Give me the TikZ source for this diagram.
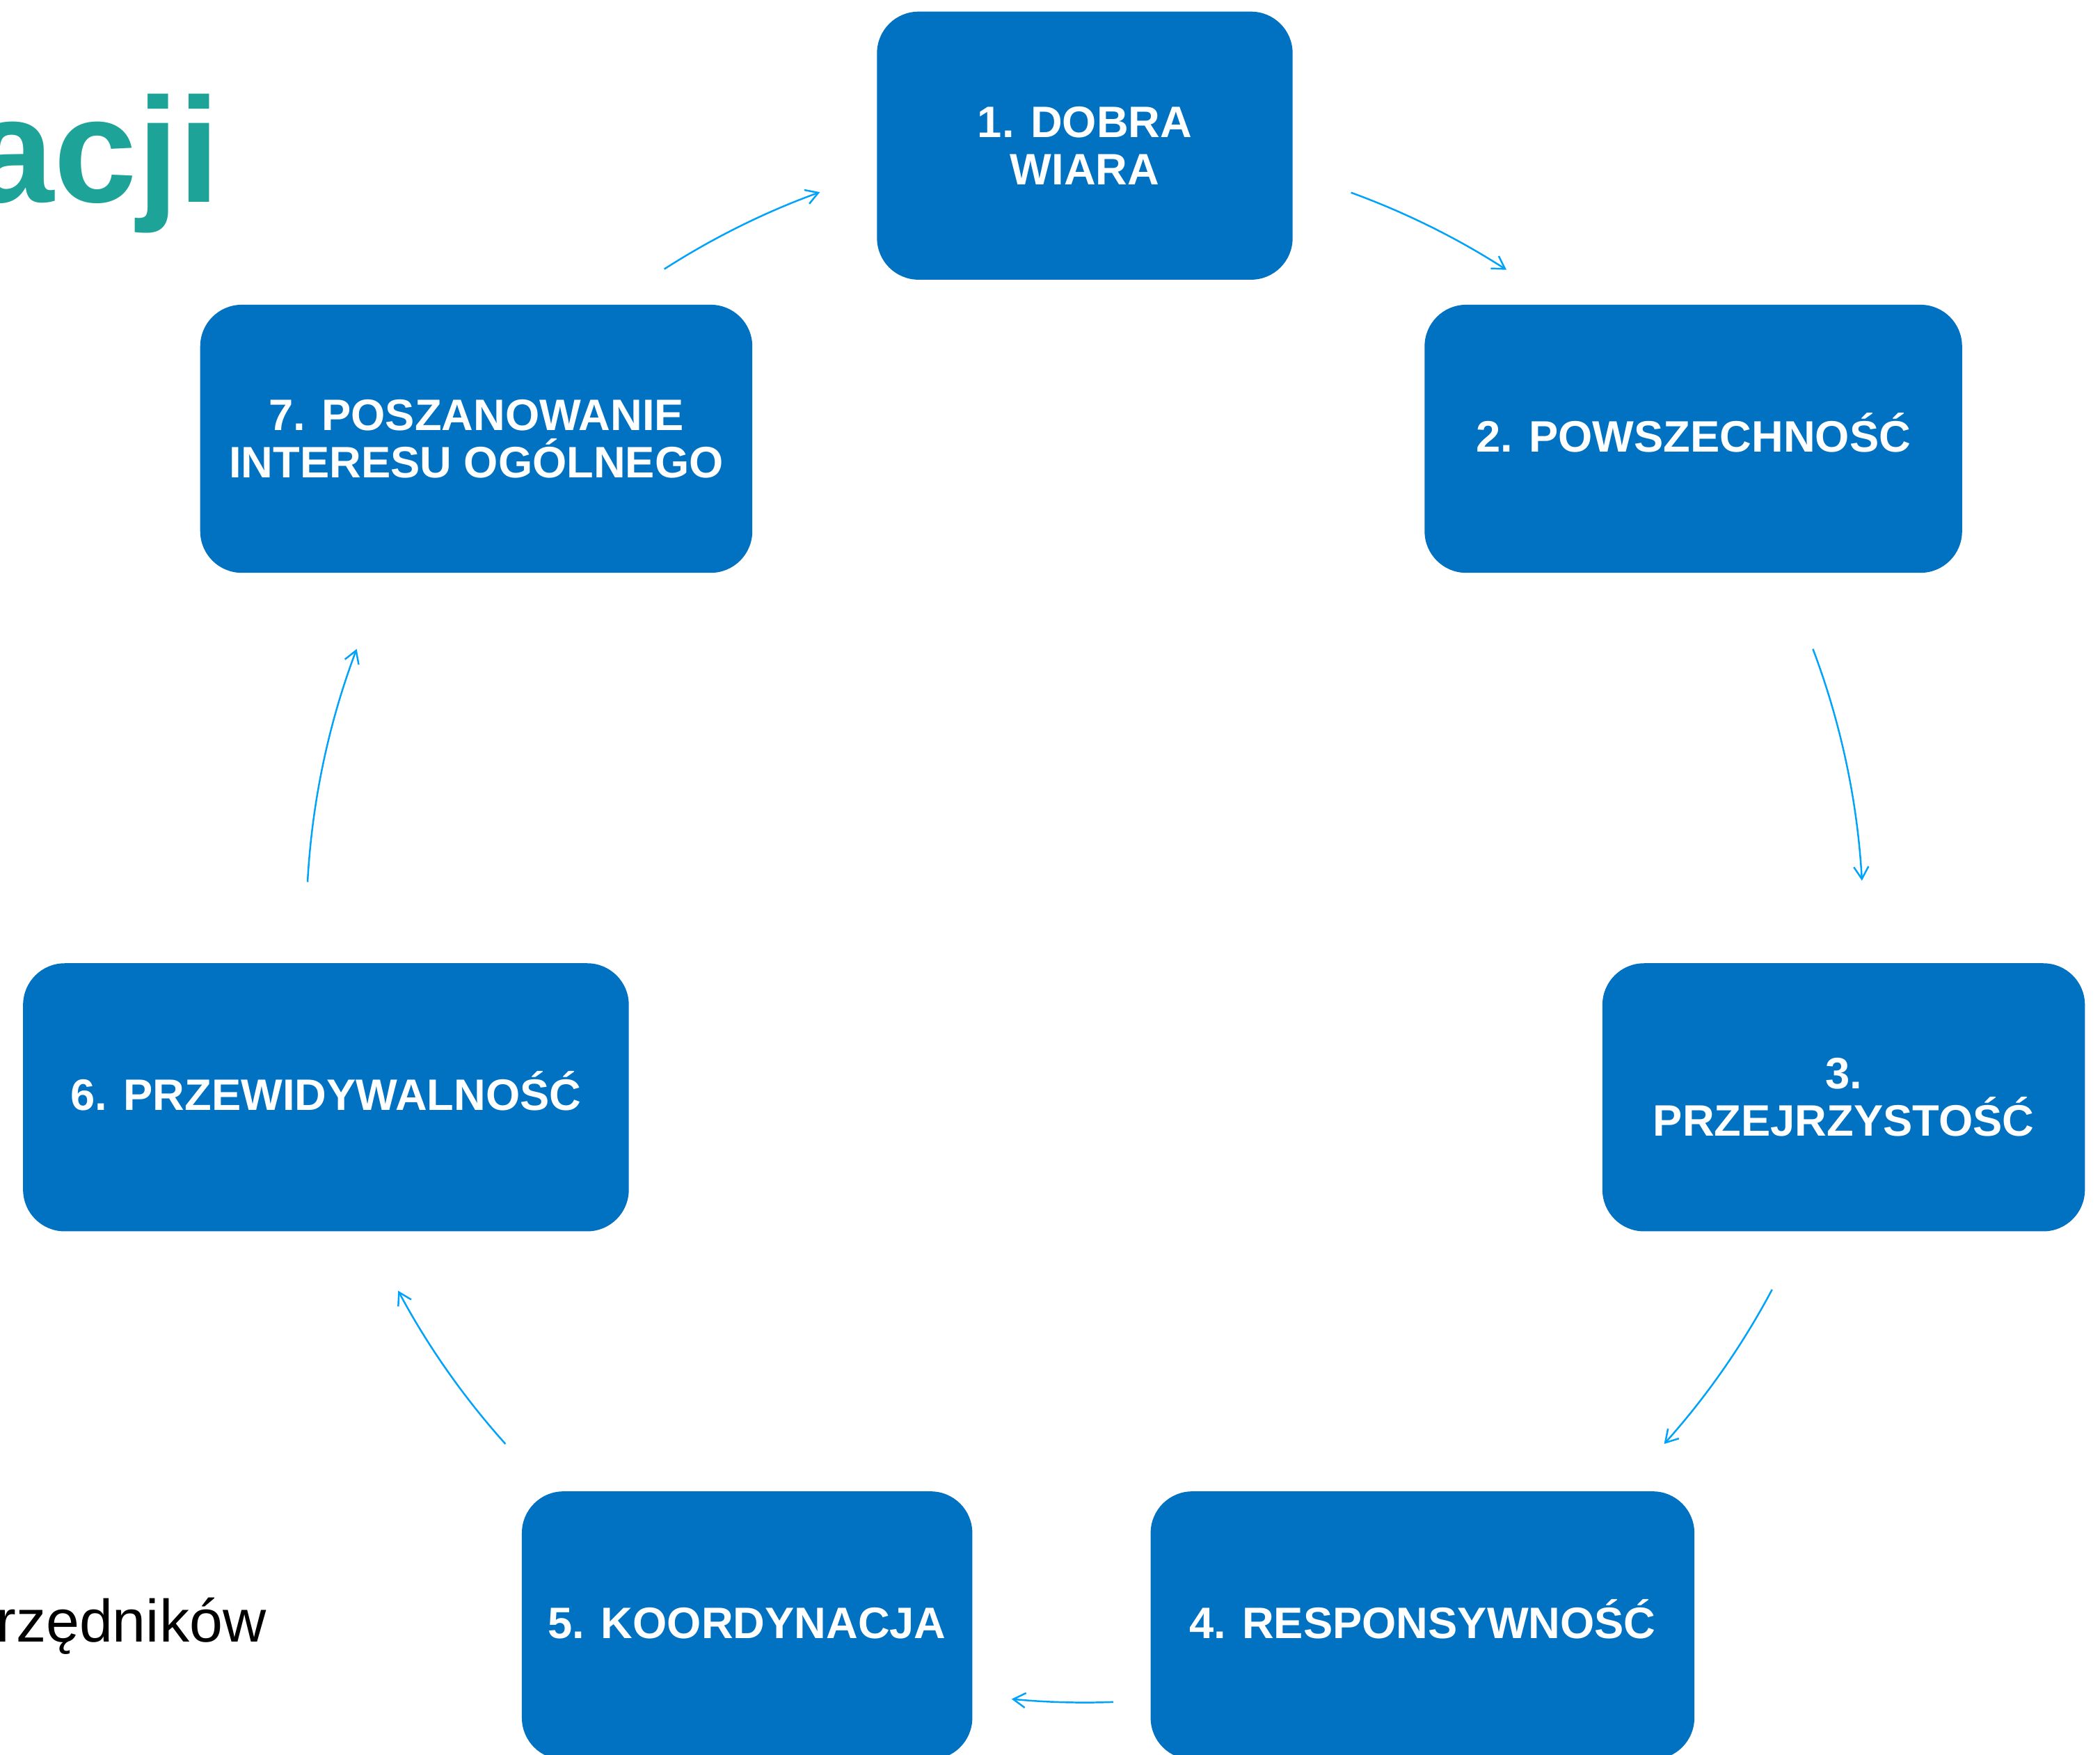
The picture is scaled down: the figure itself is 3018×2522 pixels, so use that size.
\documentclass[tikz,border=0pt]{standalone}
\usepackage{fontspec}
\setmainfont{Liberation Sans}
\usetikzlibrary{arrows.meta}
\definecolor{boxblue}{RGB}{1,113,194}
\definecolor{arrowblue}{RGB}{0,162,250}
\definecolor{titleteal}{RGB}{29,163,152}
\begin{document}
\begin{tikzpicture}[x=0.01cm,y=0.01cm,
  box/.style={fill=boxblue, rounded corners=17pt, minimum height=3.85cm, text=white,
    align=center, font=\bfseries\fontsize{18}{19.5}\selectfont, inner sep=0pt},
  oneline/.style={text height=12.9pt, text depth=2.2pt},
  cyc/.style={draw=arrowblue, line width=0.7pt, -{Straight Barb[length=5pt,width=6pt]}}]
\useasboundingbox (0,0) rectangle (3018,2522);
\clip (0,0) rectangle (3018,2522);
\coordinate (C) at (1559,1194);

\node[anchor=base east, inner sep=0pt, text=titleteal, font=\bfseries\fontsize{61}{61}\selectfont] (title) at (317,2231) {acji};
\node[anchor=base east, inner sep=0pt, text=black, font=\fontsize{24.5}{24.5}\selectfont] (frag) at (383,162) {rzędników};

\node[box, minimum width=5.97cm] (b1) at ([shift={(90:11.18cm)}]C) {1. DOBRA\\WIARA};
\node[box, oneline, minimum width=7.72cm] (b2) at ([shift={(38.571:11.18cm)}]C) {2. POWSZECHNOŚĆ};
\node[box, minimum width=6.93cm] (b3) at ([shift={(-12.857:11.18cm)}]C) {3.\\PRZEJRZYSTOŚĆ};
\node[box, oneline, minimum width=7.81cm] (b4) at ([shift={(-64.286:11.18cm)}]C) {4. RESPONSYWNOŚĆ};
\node[box, oneline, minimum width=6.47cm] (b5) at ([shift={(-115.714:11.18cm)}]C) {5. KOORDYNACJA};
\node[box, oneline, minimum width=8.70cm] (b6) at ([shift={(-167.143:11.18cm)}]C) {6. PRZEWIDYWALNOŚĆ};
\node[box, minimum width=7.93cm] (b7) at ([shift={(141.429:11.18cm)}]C) {7. POSZANOWANIE\\INTERESU OGÓLNEGO};

\draw[cyc] ([shift={(70.0:11.18cm)}]C) arc[start angle=70.0, end angle=57.2, radius=11.18cm];
\draw[cyc] ([shift={(20.7:11.18cm)}]C) arc[start angle=20.7, end angle=3.2, radius=11.18cm];
\draw[cyc] ([shift={(-28.0:11.18cm)}]C) arc[start angle=-28.0, end angle=-41.9, radius=11.18cm];
\draw[cyc] ([shift={(-87.9:11.18cm)}]C) arc[start angle=-87.9, end angle=-95.4, radius=11.18cm];
\draw[cyc] ([shift={(-138.1:11.18cm)}]C) arc[start angle=-138.1, end angle=-151.9, radius=11.18cm];
\draw[cyc] ([shift={(176.9:11.18cm)}]C) arc[start angle=176.9, end angle=159.3, radius=11.18cm];
\draw[cyc] ([shift={(122.7:11.18cm)}]C) arc[start angle=122.7, end angle=109.9, radius=11.18cm];
\end{tikzpicture}
\end{document}
